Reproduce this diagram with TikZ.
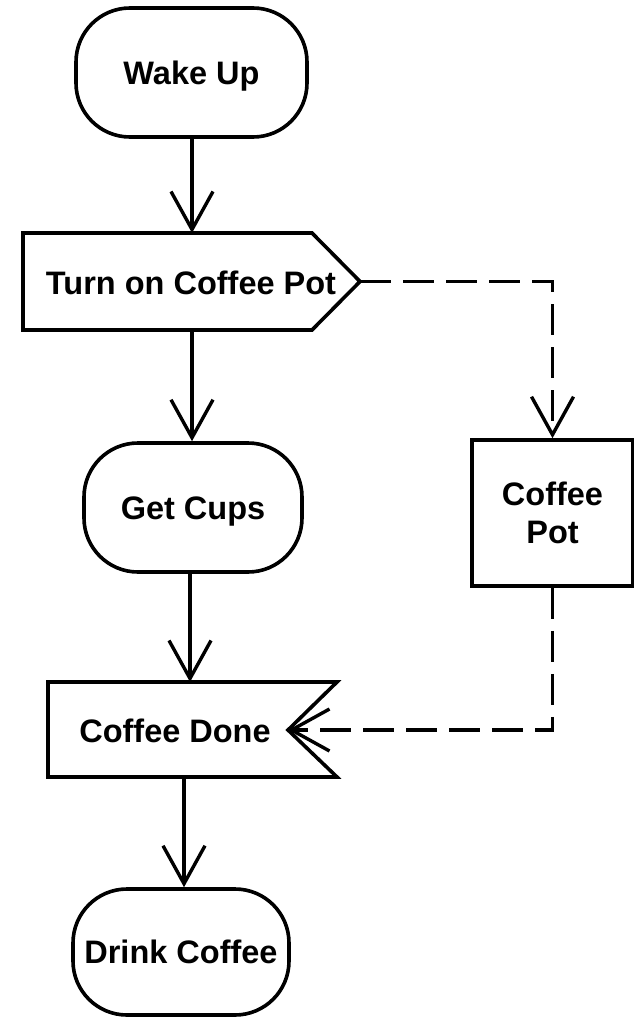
\documentclass[tikz,border=0pt]{standalone}
\usepackage{fontspec}
\setmainfont{Liberation Sans}
\usetikzlibrary{arrows.meta}
\begin{document}
\begin{tikzpicture}[x=1pt,y=-1pt,
  every node/.style={font=\bfseries\fontsize{32.5}{38}\selectfont, align=center, inner sep=0pt},
  label/.style={text height=23.3pt, text depth=0pt},
  outline/.style={line width=3.6pt, line join=miter},
  roundbox/.style={draw, line width=3.6pt, rounded corners=54pt, label},
  flow/.style={line width=3.4pt, -{Straight Barb[length=38pt,width=42pt,line width=3.4pt]}},
  dflow/.style={flow, line width=3.8pt, dash pattern=on 31pt off 12pt}]
\useasboundingbox (0,0) rectangle (634,1017);
% Wake Up
\node[roundbox, minimum width=231pt, minimum height=129pt] (wake) at (191.5,72.5) {Wake Up};
% Turn on Coffee Pot (pentagon)
\node[label] (turn) at (191,283) {Turn on Coffee Pot};
\coordinate (turntip) at (360,281.5);
\draw[outline] (23,233) -- (312,233) -- (turntip) -- (312,330) -- (23,330) -- cycle;
\coordinate (turnS) at (192,330);
% Get Cups
\node[roundbox, minimum width=218pt, minimum height=129pt] (get) at (193,507.5) {Get Cups};
% Coffee Pot
\node[draw, line width=3.6pt, minimum width=161pt, minimum height=146pt] (pot) at (552.5,513) {Coffee\\Pot};
% Coffee Done (notched)
\node[label] (done) at (175,731) {Coffee Done};
\coordinate (notch) at (288,730);
\draw[outline] (48,682) -- (337,682) -- (notch) -- (337,777) -- (48,777) -- cycle;
\coordinate (doneN) at (190,682);
\coordinate (doneS) at (184,777);
% Drink Coffee
\node[roundbox, minimum width=216pt, minimum height=126pt] (drink) at (181,952) {Drink Coffee};
% connectors
\draw[flow] (wake.south -| 192,0) -- (192,233);
\draw[flow] (turnS) -- (get.north -| turnS);
\draw[flow] (get.south -| doneN) -- (doneN);
\draw[flow] (doneS) -- (drink.north -| doneS);
\draw[dflow] (turntip) -| (pot.north);
\draw[dflow] (pot.south) |- (notch);
\end{tikzpicture}
\end{document}
